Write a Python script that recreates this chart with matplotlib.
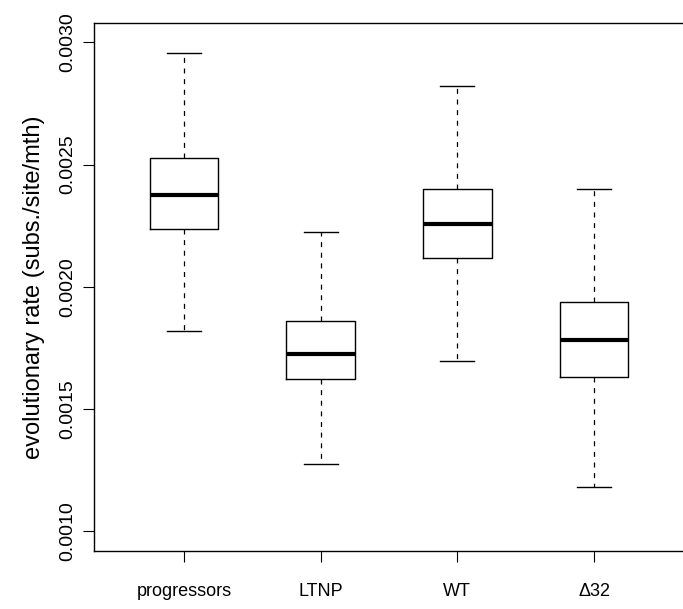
import matplotlib
matplotlib.use("Agg")
import matplotlib.pyplot as plt

plt.rcParams['font.family'] = ['Liberation Sans', 'DejaVu Sans']

groups = ["progressors", "LTNP", "WT", "\u039432"]
whisker_low = [0.001819, 0.001276, 0.001696, 0.001180]
box_low = [0.002236, 0.001621, 0.002119, 0.001631]
medians = [0.002375, 0.001726, 0.002257, 0.001781]
box_high = [0.002525, 0.001861, 0.002401, 0.001939]
whisker_high = [0.002957, 0.002223, 0.002820, 0.002401]
yticks = [0.0010, 0.0015, 0.0020, 0.0025, 0.0030]


def draw_box():
    fig = plt.figure(figsize=(6.83, 6.09), dpi=100)
    ax = fig.add_axes([94 / 683, 58 / 609, (683 - 94) / 683, (551 - 22.7) / 609])

    stats = []
    for i, name in enumerate(groups):
        stats.append({'label': name, 'whislo': whisker_low[i], 'q1': box_low[i],
                      'med': medians[i], 'q3': box_high[i], 'whishi': whisker_high[i],
                      'fliers': []})

    ax.bxp(stats, positions=range(1, len(groups) + 1), widths=0.5, showfliers=False,
           boxprops=dict(color='black', linewidth=1.0),
           medianprops=dict(color='black', linewidth=3.0, solid_capstyle='butt'),
           whiskerprops=dict(color='black', linewidth=0.9, linestyle=(0, (4, 4.5))),
           capprops=dict(color='black', linewidth=1.0),
           capwidths=0.25)

    # axis limits chosen so the frame sits where it does in the reference
    ax.set_xlim(1 - 90 / 136.7, 4 + 89 / 136.7)
    ax.set_ylim(0.0030 - (551 - 42.3) / 244400, 0.0030 + (42.3 - 22.7) / 244400)

    ax.set_yticks(yticks)
    ax.set_yticklabels(['%.4f' % v for v in yticks], rotation=90, va='center')
    ax.set_xticks(range(1, len(groups) + 1))
    ax.set_xticklabels(groups)
    ax.tick_params(axis='both', direction='out', length=8, width=0.8, labelsize=13)
    ax.tick_params(axis='y', labelsize=14, pad=5)
    ax.tick_params(axis='x', pad=15)
    ax.spines['right'].set_visible(False)
    for s in ['left', 'top', 'bottom']:
        ax.spines[s].set_linewidth(1.0)

    ax.set_ylabel('evolutionary rate (subs./site/mth)', fontsize=17, labelpad=10)

    plt.savefig('out.png', dpi=100)


if __name__ == '__main__':
    draw_box()
